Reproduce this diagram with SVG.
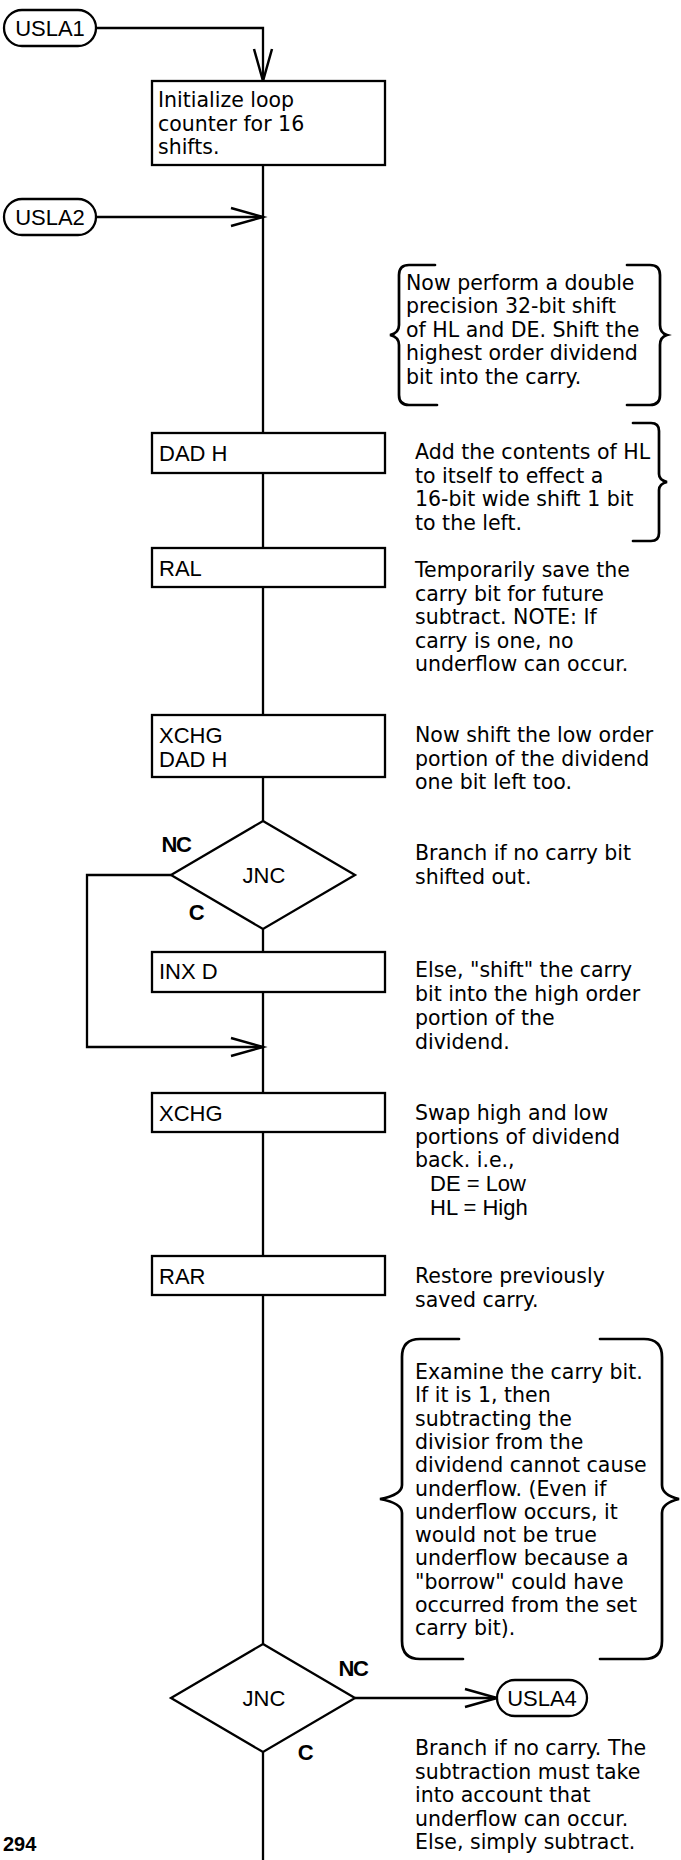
<svg xmlns="http://www.w3.org/2000/svg" width="681" height="1860" viewBox="0 0 681 1860">
<style>
.box{fill:#fff;stroke:#000;stroke-width:2.3}
.ln{fill:none;stroke:#000;stroke-width:2.3}
.br{fill:none;stroke:#000;stroke-width:2.7;stroke-linecap:round}
.lbl{font-family:"Liberation Sans",Arial,sans-serif;font-size:22px;fill:#000}
.term{font-family:"Liberation Sans",Arial,sans-serif;font-size:22px;fill:#000;text-anchor:middle}
.cm{font-family:"DejaVu Sans",sans-serif;font-size:20.5px;fill:#000}
.bold{font-family:"Liberation Sans",Arial,sans-serif;font-size:22px;font-weight:bold;fill:#000;text-anchor:middle;letter-spacing:-1.5px}
</style>
<defs>
<marker id="arr" markerUnits="userSpaceOnUse" markerWidth="40" markerHeight="24" viewBox="-36 -12 40 24" refX="0" refY="0" orient="auto" overflow="visible">
<path d="M-32,-9 L0,0 L-32,9" fill="none" stroke="#000" stroke-width="2.5"/>
</marker>
</defs>
<rect width="681" height="1860" fill="#fff"/>

<g id="connectors">
<path class="ln" d="M96,28 H263 V81" marker-end="url(#arr)"/>
<path class="ln" d="M96,217 H263" marker-end="url(#arr)"/>
<path class="ln" d="M263,165 V433"/>
<path class="ln" d="M263,473 V548"/>
<path class="ln" d="M263,587 V715"/>
<path class="ln" d="M263,777 V821"/>
<path class="ln" d="M263,929 V952"/>
<path class="ln" d="M263,992 V1093"/>
<path class="ln" d="M171,875 H87 V1047 H263" marker-end="url(#arr)"/>
<path class="ln" d="M263,1132 V1256"/>
<path class="ln" d="M263,1295 V1644"/>
<path class="ln" d="M263,1752 V1860"/>
<path class="ln" d="M355,1698 H497" marker-end="url(#arr)"/>
</g>

<g id="USLA1">
<rect class="box" x="4" y="10" width="92" height="36" rx="18"/>
<text class="term" x="50" y="36">USLA1</text>
</g>

<g id="init">
<rect class="box" x="152" y="81" width="233" height="84"/>
<text class="cm" x="158" y="107">Initialize loop</text>
<text class="cm" x="158" y="130.5">counter for 16</text>
<text class="cm" x="158" y="154">shifts.</text>
</g>

<g id="USLA2">
<rect class="box" x="4" y="199" width="92" height="36" rx="18"/>
<text class="term" x="50" y="225">USLA2</text>
</g>

<g id="note1">
<path class="br" d="M435,265 H409 Q399,265 399,275 V325 Q399,333 390,335 Q399,337 399,345 V395 Q399,405 409,405 H437"/>
<path class="br" d="M627,265 H650 Q660,265 660,275 V325 Q660,333 667,335 Q660,337 660,345 V395 Q660,405 650,405 H627"/>
<text class="cm" x="406" y="290">Now perform a double</text>
<text class="cm" x="406" y="313.4">precision 32-bit shift</text>
<text class="cm" x="406" y="336.8">of HL and DE. Shift the</text>
<text class="cm" x="406" y="360.2">highest order dividend</text>
<text class="cm" x="406" y="383.6">bit into the carry.</text>
</g>

<g id="dadh1">
<rect class="box" x="152" y="433" width="233" height="40"/>
<text class="lbl" x="159" y="461">DAD H</text>
<path class="br" d="M633,423 H651 Q659,423 659,431 V474 Q659,480 667,482 Q659,484 659,490 V533 Q659,541 651,541 H633"/>
<text class="cm" x="415" y="459">Add the contents of HL</text>
<text class="cm" x="415" y="482.5">to itself to effect a</text>
<text class="cm" x="415" y="506">16-bit wide shift 1 bit</text>
<text class="cm" x="415" y="529.5">to the left.</text>
</g>

<g id="ral">
<rect class="box" x="152" y="548" width="233" height="39"/>
<text class="lbl" x="159" y="575.5">RAL</text>
<text class="cm" x="415" y="577">Temporarily save the</text>
<text class="cm" x="415" y="600.5">carry bit for future</text>
<text class="cm" x="415" y="624">subtract.  NOTE:  If</text>
<text class="cm" x="415" y="647.5">carry is one, no</text>
<text class="cm" x="415" y="671">underflow can occur.</text>
</g>

<g id="xchg1">
<rect class="box" x="152" y="715" width="233" height="62"/>
<text class="lbl" x="159" y="743">XCHG</text>
<text class="lbl" x="159" y="767">DAD H</text>
<text class="cm" x="415" y="742">Now shift the low order</text>
<text class="cm" x="415" y="766">portion of the dividend</text>
<text class="cm" x="415" y="789">one bit left too.</text>
</g>

<g id="jnc1">
<polygon class="box" points="263,821 355,875 263,929 171,875"/>
<text class="term" x="264" y="883" font-size="20">JNC</text>
<text class="bold" x="176" y="852">NC</text>
<text class="bold" x="196" y="920">C</text>
<text class="cm" x="415" y="860">Branch if no carry bit</text>
<text class="cm" x="415" y="884">shifted out.</text>
</g>

<g id="inxd">
<rect class="box" x="152" y="952" width="233" height="40"/>
<text class="lbl" x="159" y="979">INX D</text>
<text class="cm" x="415" y="977">Else, "shift" the carry</text>
<text class="cm" x="415" y="1001">bit into the high order</text>
<text class="cm" x="415" y="1025">portion of the</text>
<text class="cm" x="415" y="1049">dividend.</text>
</g>

<g id="xchg2">
<rect class="box" x="152" y="1093" width="233" height="39"/>
<text class="lbl" x="159" y="1120.5">XCHG</text>
<text class="cm" x="415" y="1120">Swap high and low</text>
<text class="cm" x="415" y="1144">portions of dividend</text>
<text class="cm" x="415" y="1167">back. i.e.,</text>
<text class="lbl" x="430" y="1191">DE = Low</text>
<text class="lbl" x="430" y="1215">HL = High</text>
</g>

<g id="rar">
<rect class="box" x="152" y="1256" width="233" height="39"/>
<text class="lbl" x="159" y="1283.5">RAR</text>
<text class="cm" x="415" y="1283">Restore previously</text>
<text class="cm" x="415" y="1307">saved carry.</text>
</g>

<g id="note2">
<path class="br" d="M459,1339 H420 Q402,1339 402,1357 V1485 Q402,1495 380,1499 Q402,1503 402,1513 V1641 Q402,1659 420,1659 H463"/>
<path class="br" d="M600,1339 H644 Q662,1339 662,1357 V1485 Q662,1495 679,1499 Q662,1503 662,1513 V1641 Q662,1659 644,1659 H600"/>
<text class="cm" x="415" y="1379">Examine the carry bit.</text>
<text class="cm" x="415" y="1402.3">If it is 1, then</text>
<text class="cm" x="415" y="1425.6">subtracting the</text>
<text class="cm" x="415" y="1448.9">divisior from the</text>
<text class="cm" x="415" y="1472.2">dividend cannot cause</text>
<text class="cm" x="415" y="1495.5">underflow. (Even if</text>
<text class="cm" x="415" y="1518.8">underflow occurs, it</text>
<text class="cm" x="415" y="1542.1">would not be true</text>
<text class="cm" x="415" y="1565.4">underflow because a</text>
<text class="cm" x="415" y="1588.7">"borrow" could have</text>
<text class="cm" x="415" y="1612">occurred from the set</text>
<text class="cm" x="415" y="1635.3">carry bit).</text>
</g>

<g id="jnc2">
<polygon class="box" points="263,1644 355,1698 263,1752 171,1698"/>
<text class="term" x="264" y="1706" font-size="20">JNC</text>
<text class="bold" x="353" y="1676">NC</text>
<text class="bold" x="305" y="1760">C</text>
<text class="cm" x="415" y="1755">Branch if no carry. The</text>
<text class="cm" x="415" y="1778.5">subtraction must take</text>
<text class="cm" x="415" y="1802">into account that</text>
<text class="cm" x="415" y="1825.5">underflow can occur.</text>
<text class="cm" x="415" y="1849">Else, simply subtract.</text>
</g>

<g id="USLA4">
<rect class="box" x="497" y="1680" width="90" height="36" rx="18"/>
<text class="term" x="542" y="1706">USLA4</text>
</g>

<g id="page">
<text x="3" y="1851" font-family="Liberation Sans, Arial, sans-serif" font-size="20" font-weight="bold" fill="#000">294</text>
</g>
</svg>
